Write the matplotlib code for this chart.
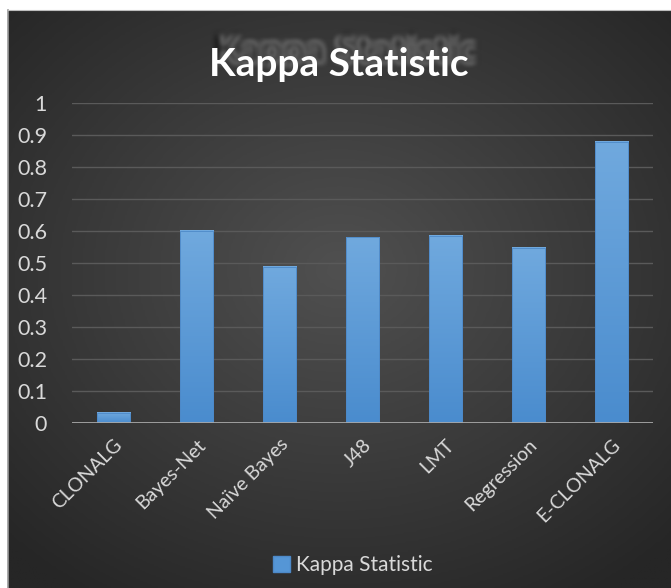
import matplotlib.pyplot as plt
import numpy as np
from matplotlib.colors import LinearSegmentedColormap
from matplotlib.patches import Patch

categories = ["CLONALG", "Bayes-Net", "Naïve Bayes", "J48", "LMT", "Regression", "E-CLONALG"]
kappa = [0.032, 0.600, 0.488, 0.580, 0.584, 0.546, 0.878]
yticks = [0, 0.1, 0.2, 0.3, 0.4, 0.5, 0.6, 0.7, 0.8, 0.9, 1]
ytick_labels = ["0", "0.1", "0.2", "0.3", "0.4", "0.5", "0.6", "0.7", "0.8", "0.9", "1"]

W, H = 671, 588
FONT = "Lato"
TXT = "#d9d9d9"

fig = plt.figure(figsize=(W / 100, H / 100), dpi=100, facecolor="white")

# dark panel with a soft radial light in the middle
bg = fig.add_axes([8 / W, 0, (W - 8) / W, (H - 10) / H])
gx, gy = np.meshgrid(np.linspace(-1, 1, 300), np.linspace(-1, 1, 260))
r = np.sqrt((gx * 0.95) ** 2 + ((gy + 0.1) * 1.0) ** 2)
shade = np.clip(1 - r / 1.35, 0, 1)
bg_cmap = LinearSegmentedColormap.from_list("bg", ["#262626", "#505050"])
bg.imshow(shade, cmap=bg_cmap, aspect="auto", extent=[0, 1, 0, 1], vmin=0, vmax=1)
bg.set_xlim(0, 1)
bg.set_ylim(0, 1)
bg.axis("off")
bg.plot([0, 0], [0, 1], color="#9a9a9a", lw=1.2, clip_on=False)
bg.plot([0, 1], [1, 1], color="#bdbdbd", lw=0.8, clip_on=False)

ax = fig.add_axes([72 / W, (H - 423.3) / H, (653 - 72) / W, (423.3 - 102.7) / H])
ax.patch.set_alpha(0)

x = np.arange(len(categories))
bars = ax.bar(x, kappa, width=0.4, facecolor="none", edgecolor="#4d89c8", lw=0.6, zorder=3)

bar_cmap = LinearSegmentedColormap.from_list("bar", ["#4a8cce", "#70a9de"])
grad = np.linspace(0, 1, 100).reshape(-1, 1)
for b in bars:
    ax.imshow(grad, cmap=bar_cmap, origin="lower", aspect="auto", zorder=2,
              extent=[b.get_x(), b.get_x() + b.get_width(), 0, b.get_height()])

ax.set_xlim(-0.5, len(categories) - 0.5)
ax.set_ylim(0, 1)
ax.set_yticks(yticks)
ax.set_yticklabels(ytick_labels)
for t in yticks[1:]:
    ax.axhline(t, color="#5a5a5a", lw=1.0, zorder=1)
ax.axhline(0, color="#a8a8a8", lw=2.0, zorder=4)

for s in ax.spines.values():
    s.set_visible(False)
ax.tick_params(axis="both", length=0, colors=TXT)
ax.tick_params(axis="y", pad=18, labelsize=15.5)
ax.tick_params(axis="x", pad=9, labelsize=14)
ax.set_xticks(x)
ax.set_xticklabels(categories, rotation=45, ha="right", rotation_mode="anchor")
for lab in ax.get_xticklabels() + ax.get_yticklabels():
    lab.set_fontfamily(FONT)
    lab.set_color(TXT)


def soft(img, dpi):
    pad = 12
    a = np.pad(img, ((pad, pad), (pad, pad), (0, 0)))
    for _ in range(2):
        for axis in (0, 1):
            a = sum(np.roll(a, s, axis=axis) for s in range(-3, 4)) / 7.0
    return a, -pad, -pad


shadow = fig.text(345 / W, 1 - 51 / H, "Kappa Statistic", ha="center", va="center",
                  fontsize=28.5, fontweight="bold", family=FONT, color="#161616", alpha=0.9)
shadow.set_agg_filter(soft)
shadow.set_rasterized(True)
fig.text(339 / W, 1 - 65 / H, "Kappa Statistic", ha="center", va="center",
         fontsize=28, fontweight="bold", family=FONT, color="white")

leg = fig.legend(handles=[Patch(facecolor="#5596d6", edgecolor="#4d89c8", label="Kappa Statistic")],
                 loc="center", bbox_to_anchor=(353 / W, 1 - 565 / H), frameon=False,
                 handlelength=0.8, handleheight=0.8, handletextpad=0.3,
                 prop={"family": FONT, "size": 15})
for t in leg.get_texts():
    t.set_color(TXT)

fig.savefig("out.png", dpi=100, facecolor="white")
